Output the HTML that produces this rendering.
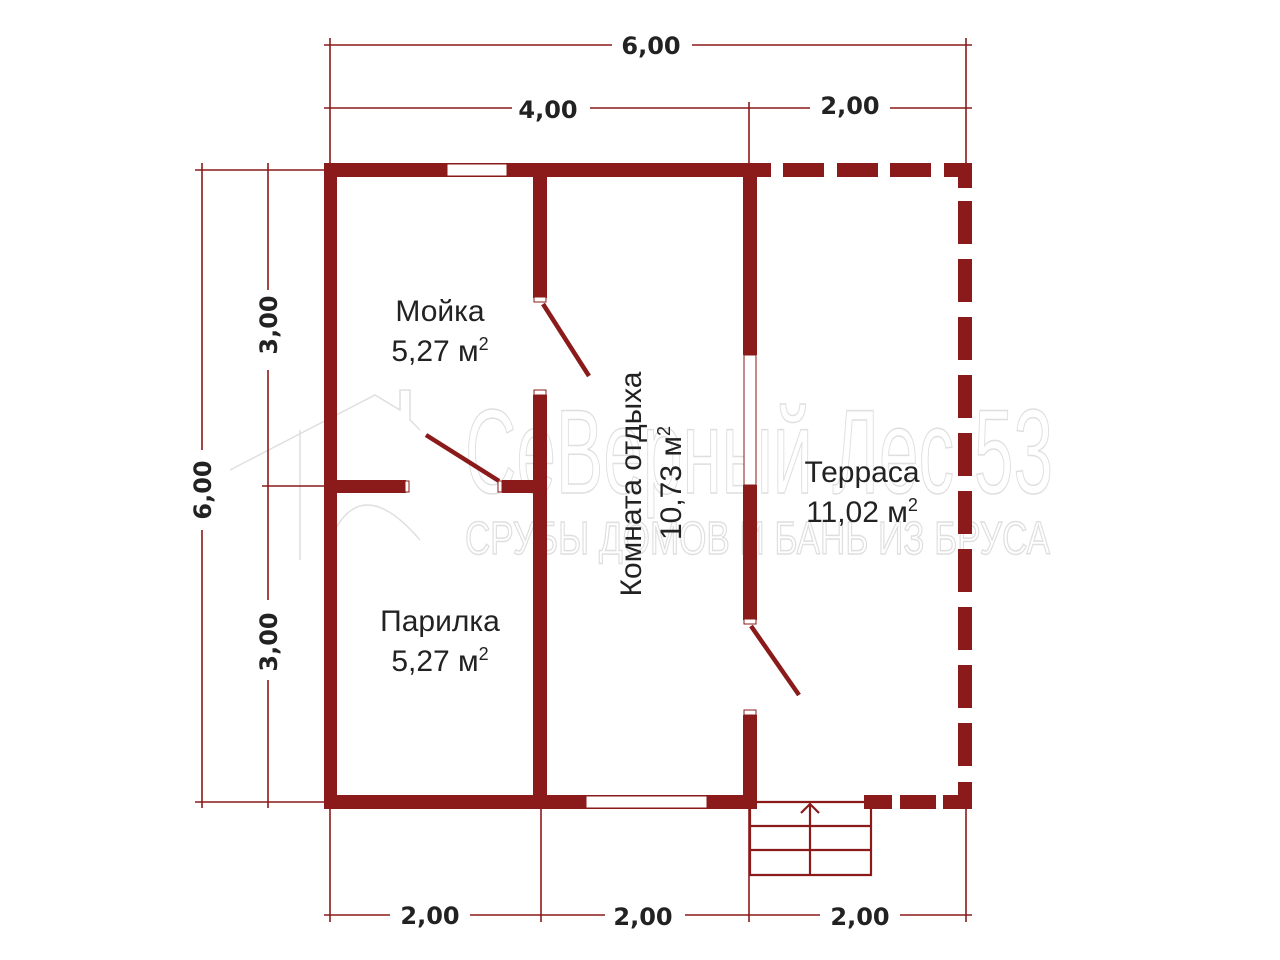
<!DOCTYPE html>
<html><head><meta charset="utf-8"><style>
html,body{margin:0;padding:0;background:#fff;}
svg{display:block;}
.t{font-family:"Liberation Sans","DejaVu Sans",sans-serif;fill:#222;font-size:30px;}
.d{font-family:"DejaVu Sans","Liberation Sans",sans-serif;fill:#222;font-size:24px;font-weight:bold;}
</style></head><body>
<svg width="1280" height="960" viewBox="0 0 1280 960" xmlns="http://www.w3.org/2000/svg">
<g fill="none" stroke="#dcdcdc" stroke-width="1.5" opacity="0.9">
<text x="465" y="493" font-family="Liberation Sans Narrow, Liberation Sans, sans-serif" font-size="120" textLength="588" lengthAdjust="spacingAndGlyphs">СеВерный Лес 53</text>
<text x="465" y="554" font-family="Liberation Sans Narrow, Liberation Sans, sans-serif" font-size="46" textLength="585" lengthAdjust="spacingAndGlyphs">СРУБЫ ДОМОВ И БАНЬ ИЗ БРУСА</text>
<path d="M230 470 L375 395 L400 410 L400 390 L410 390 L410 420 L420 430 M300 430 L300 560 M330 540 Q360 470 420 540"/>
</g>
<g stroke="#8b1a1a" stroke-width="1.6" fill="none">
<line x1="324" y1="45" x2="612" y2="45"/><line x1="692" y1="45" x2="972" y2="45"/>
<line x1="324" y1="108" x2="512" y2="108"/><line x1="590" y1="108" x2="810" y2="108"/><line x1="890" y1="108" x2="972" y2="108"/>
<line x1="330" y1="38" x2="330" y2="165"/><line x1="966" y1="38" x2="966" y2="165"/>
<line x1="749" y1="102" x2="749" y2="165"/>
<line x1="202" y1="163" x2="202" y2="450"/><line x1="202" y1="530" x2="202" y2="808"/>
<line x1="268" y1="163" x2="268" y2="290"/><line x1="268" y1="370" x2="268" y2="600"/><line x1="268" y1="680" x2="268" y2="808"/>
<line x1="195" y1="170" x2="326" y2="170"/><line x1="195" y1="802" x2="326" y2="802"/>
<line x1="262" y1="486" x2="326" y2="486"/>
<line x1="324" y1="915" x2="390" y2="915"/><line x1="470" y1="915" x2="605" y2="915"/><line x1="685" y1="915" x2="820" y2="915"/><line x1="900" y1="915" x2="972" y2="915"/>
<line x1="330" y1="808" x2="330" y2="922"/><line x1="541" y1="808" x2="541" y2="922"/><line x1="749" y1="808" x2="749" y2="922"/><line x1="966" y1="808" x2="966" y2="922"/>
</g>
<g stroke="#8b1a1a" stroke-width="2.2" fill="none">
<polyline points="750,802 750,875 871,875 871,802 750,802"/>
<line x1="750" y1="826" x2="871" y2="826"/><line x1="750" y1="850" x2="871" y2="850"/>
<line x1="810" y1="804" x2="810" y2="875"/>
<polyline points="801,813 810,804 819,813"/>
</g>
<g fill="#8b1a1a">
<rect x="324" y="163" width="447" height="14"/>
<rect x="324" y="163" width="13" height="646"/>
<rect x="324" y="795" width="433" height="14"/>
<rect x="533" y="163" width="14" height="135"/>
<rect x="533" y="395" width="14" height="414"/>
<rect x="337" y="480" width="69" height="13"/>
<rect x="502" y="480" width="31" height="13"/>
<rect x="743" y="163" width="14" height="192"/>
<rect x="743" y="485" width="14" height="135"/>
<rect x="743" y="715" width="14" height="94"/>
<rect x="783" y="163" width="41" height="14"/><rect x="837" y="163" width="41" height="14"/><rect x="890" y="163" width="41" height="14"/>
<rect x="944" y="163" width="28" height="14"/><rect x="958" y="163" width="14" height="25"/>
<rect x="958" y="201" width="14" height="43"/><rect x="958" y="259" width="14" height="43"/><rect x="958" y="317" width="14" height="43"/><rect x="958" y="375" width="14" height="43"/><rect x="958" y="433" width="14" height="43"/><rect x="958" y="491" width="14" height="43"/><rect x="958" y="549" width="14" height="43"/><rect x="958" y="607" width="14" height="43"/><rect x="958" y="665" width="14" height="43"/><rect x="958" y="723" width="14" height="43"/>
<rect x="958" y="782" width="14" height="27"/><rect x="943" y="795" width="29" height="14"/>
<rect x="900" y="795" width="36" height="14"/><rect x="864" y="795" width="28" height="14"/>
</g>
<g fill="#fff" stroke="#8b1a1a" stroke-width="1">
<rect x="447" y="164" width="60" height="12"/>
<rect x="586" y="796" width="121" height="12"/>
<rect x="744" y="355" width="12" height="130"/>
<rect x="534" y="297" width="12" height="5"/>
<rect x="534" y="390" width="12" height="5"/>
<rect x="405" y="481" width="4" height="11"/>
<rect x="498" y="481" width="4" height="11"/>
<rect x="744" y="619" width="12" height="5"/>
<rect x="744" y="710" width="12" height="5"/>
</g>
<g stroke="#8b1a1a" stroke-width="4.5">
<line x1="543" y1="304" x2="589" y2="376"/>
<line x1="426" y1="435" x2="499" y2="481"/>
<line x1="751" y1="626" x2="799" y2="695"/>
</g>
<g class="t" text-anchor="middle">
<text x="440" y="321">Мойка</text>
<text x="440" y="361">5,27 м<tspan dy="-11" font-size="18">2</tspan></text>
<text x="440" y="631">Парилка</text>
<text x="440" y="671">5,27 м<tspan dy="-11" font-size="18">2</tspan></text>
<text x="862" y="482">Терраса</text>
<text x="862" y="522">11,02 м<tspan dy="-11" font-size="18">2</tspan></text>
<text transform="translate(641,484) rotate(-90)">Комната отдыха</text>
<text transform="translate(681,483) rotate(-90)">10,73 м<tspan dy="-11" font-size="18">2</tspan></text>
</g>
<g class="d" text-anchor="middle">
<text x="651" y="54">6,00</text>
<text x="548" y="118">4,00</text>
<text x="850" y="114">2,00</text>
<text x="430" y="924">2,00</text>
<text x="643" y="925">2,00</text>
<text x="860" y="925">2,00</text>
<text transform="translate(211,490) rotate(-90)">6,00</text>
<text transform="translate(277,325) rotate(-90)">3,00</text>
<text transform="translate(277,642) rotate(-90)">3,00</text>
</g>
</svg>
</body></html>
